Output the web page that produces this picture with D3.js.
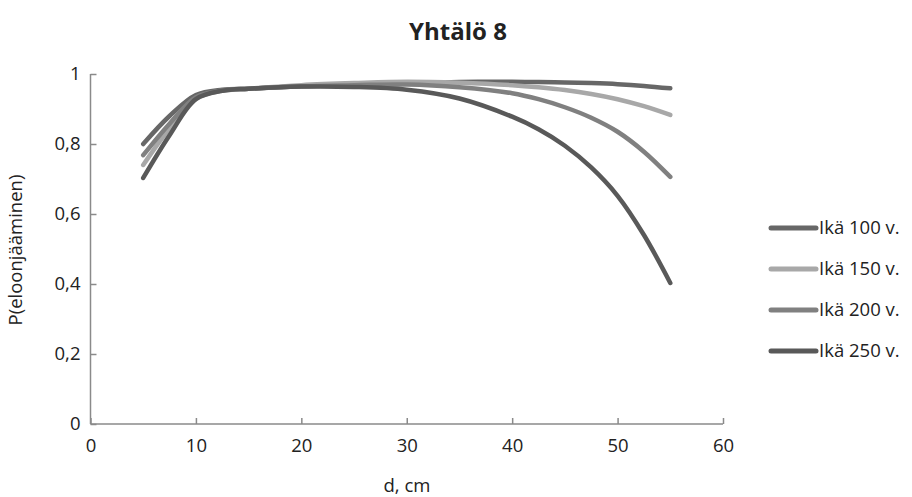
<!DOCTYPE html>
<html><head><meta charset="utf-8">
<script src="https://cdn.jsdelivr.net/npm/d3@7"></script>
<style>body{margin:0;background:#fff}svg{display:block}text{font-family:"Open Sans",sans-serif;fill:#222}</style>
</head><body><svg id="c" width="912" height="497"></svg>
<script>
const xValues = [5, 7.5, 10, 12.5, 15, 20, 25, 30, 35, 40, 42.5, 45, 47.5, 50, 52.5, 55];
const age100 = [0.800, 0.880, 0.940, 0.955, 0.958, 0.965, 0.970, 0.975, 0.977, 0.978, 0.977, 0.976, 0.974, 0.971, 0.966, 0.959];
const age150 = [0.740, 0.845, 0.930, 0.952, 0.958, 0.968, 0.974, 0.978, 0.975, 0.968, 0.962, 0.954, 0.943, 0.928, 0.908, 0.883];
const age200 = [0.768, 0.858, 0.934, 0.953, 0.958, 0.965, 0.968, 0.970, 0.962, 0.945, 0.928, 0.905, 0.875, 0.835, 0.778, 0.706];
const age250 = [0.703, 0.825, 0.928, 0.952, 0.958, 0.964, 0.963, 0.955, 0.930, 0.878, 0.842, 0.795, 0.733, 0.652, 0.540, 0.403];
const seriesNames = ["Ikä 100 v.", "Ikä 150 v.", "Ikä 200 v.", "Ikä 250 v."];
const seriesColors = ["#676767", "#a8a8a8", "#808080", "#595959"];
const xTicks = [0, 10, 20, 30, 40, 50, 60];
const yTicks = [0, 0.2, 0.4, 0.6, 0.8, 1];
const title = "Yhtälö 8";
const xTitle = "d, cm";
const yTitle = "P(eloonjääminen)";

const svg = d3.select("#c");
const x = d3.scaleLinear().domain([0, 60]).range([90.5, 723]);
const y = d3.scaleLinear().domain([0, 1]).range([424, 74]);
const axisColor = "#8a8a8a";
const fmt = v => String(v).replace(".", ",");
const fs = 18.5;

// x axis
const gx = svg.append("g").attr("transform", "translate(0,424)")
  .call(d3.axisBottom(x).tickValues(xTicks).tickSize(-6).tickPadding(15).tickFormat(fmt));
gx.select(".domain").attr("stroke", axisColor).attr("stroke-width", 1.5).attr("d", `M${x(0)},0H${x(60)}`);
gx.selectAll(".tick line").attr("stroke", axisColor).attr("stroke-width", 1.5);
gx.selectAll("text").attr("font-size", fs).attr("fill", "#222").attr("dy", "0.71em");

// y axis
const gy = svg.append("g").attr("transform", "translate(90.5,0)")
  .call(d3.axisLeft(y).tickValues(yTicks).tickSize(-6).tickPadding(10).tickFormat(fmt));
gy.select(".domain").attr("stroke", axisColor).attr("stroke-width", 1.5).attr("d", `M0,${y(0)}V${y(1)}`);
gy.selectAll(".tick line").attr("stroke", axisColor).attr("stroke-width", 1.5);
gy.selectAll("text").attr("font-size", fs).attr("fill", "#222");

// lines
const all = [age100, age150, age200, age250];
const line = d3.line().x((d, i) => x(xValues[i])).y(d => y(d)).curve(d3.curveCatmullRom.alpha(0.5));
all.forEach((vals, k) => {
  svg.append("path").datum(vals).attr("d", line).attr("fill", "none")
    .attr("stroke", seriesColors[k]).attr("stroke-width", 4.5).attr("stroke-linecap", "round");
});

// legend
seriesNames.forEach((n, k) => {
  const yy = 228 + k * 41;
  svg.append("line").attr("x1", 771).attr("x2", 816).attr("y1", yy).attr("y2", yy)
    .attr("stroke", seriesColors[k]).attr("stroke-width", 5).attr("stroke-linecap", "round");
  svg.append("text").attr("x", 819).attr("y", yy).attr("dy", "0.35em").attr("font-size", fs).text(n);
});

// titles
svg.append("text").attr("x", 458).attr("y", 40).attr("text-anchor", "middle").attr("font-size", 24).attr("font-weight", "bold").text(title);
svg.append("text").attr("x", 407).attr("y", 492).attr("text-anchor", "middle").attr("font-size", fs).text(xTitle);
svg.append("text").attr("transform", "translate(22,250) rotate(-90)").attr("text-anchor", "middle").attr("font-size", fs).text(yTitle);
</script></body></html>
